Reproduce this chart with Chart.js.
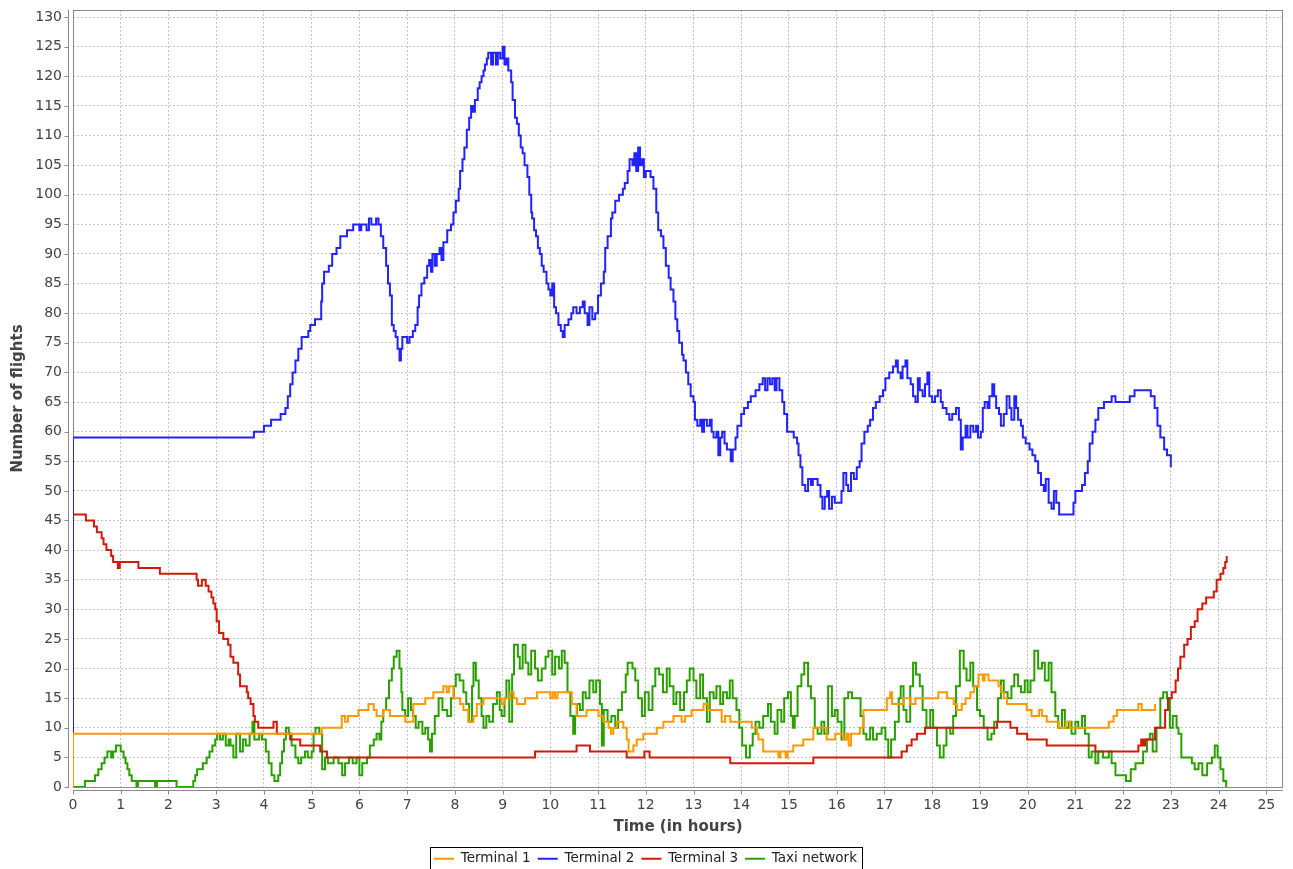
<!DOCTYPE html>
<html>
<head>
<meta charset="utf-8">
<title>Number of flights</title>
<script src="https://cdn.jsdelivr.net/npm/chart.js@4.4.1/dist/chart.umd.min.js"></script>
<style>
  html, body { margin: 0; padding: 0; background: #ffffff; }
  #wrap { position: relative; width: 1293px; height: 869px; }
</style>
</head>
<body>
<div id="wrap"><canvas id="flightsChart"></canvas></div>
<script>
// ==========================
// Data: [hour, number of flights] — each value holds until the next step
// ==========================

const seriesNames = ["Terminal 1", "Terminal 2", "Terminal 3", "Taxi network"];

const terminal1 = [
    [0, 0], [0, 9], [5.21, 10], [5.63, 12], [5.7, 11], [5.76, 12], [5.98, 13], [6.19, 14], [6.3, 13],
    [6.36, 12], [6.5, 13], [6.64, 12], [6.96, 11], [7.13, 14], [7.38, 15], [7.55, 16], [7.76, 17],
    [7.83, 16], [7.88, 17], [7.97, 15], [8.11, 14], [8.18, 13], [8.28, 11], [8.39, 12], [8.46, 14],
    [8.6, 15], [8.98, 14], [9.05, 15], [9.16, 16], [9.23, 15], [9.3, 14], [9.47, 15], [9.72, 16],
    [10.0, 15], [10.05, 16], [10.1, 15], [10.15, 16], [10.45, 14], [10.55, 12], [10.76, 13], [11.01, 12],
    [11.11, 11], [11.22, 10], [11.27, 9], [11.32, 10], [11.39, 11], [11.53, 10], [11.6, 8], [11.64, 6],
    [11.74, 7], [11.81, 8], [11.95, 9], [12.23, 10], [12.37, 11], [12.58, 12], [12.75, 11], [12.82, 12],
    [12.96, 13], [13.21, 14], [13.31, 13], [13.59, 11], [13.66, 12], [13.77, 11], [14.22, 10], [14.33, 9],
    [14.36, 8], [14.46, 6], [14.78, 5], [14.82, 6], [14.93, 5], [14.97, 6], [15.09, 7], [15.3, 8],
    [15.51, 10], [15.79, 8], [15.97, 9], [16.14, 8], [16.21, 9], [16.25, 7], [16.3, 9], [16.49, 10],
    [16.56, 13], [17.05, 15], [17.12, 16], [17.16, 14], [17.4, 15], [17.55, 14], [17.65, 15], [18.13, 16],
    [18.31, 15], [18.45, 14], [18.52, 13], [18.62, 14], [18.7, 15], [18.8, 16], [18.88, 17], [18.97, 19],
    [19.06, 18], [19.1, 19], [19.18, 18], [19.39, 17], [19.45, 16], [19.5, 15], [19.57, 14], [19.98, 13],
    [20.08, 12], [20.24, 13], [20.3, 12], [20.4, 11], [20.65, 10], [20.8, 11], [20.89, 10], [21.7, 11],
    [21.8, 12], [21.87, 13], [22.32, 14], [22.39, 13], [22.67, 14]
];

const terminal2 = [
    [0, 0], [0, 59], [3.79, 60], [4.0, 61], [4.15, 62], [4.35, 63], [4.45, 64], [4.5, 66], [4.55, 68],
    [4.6, 70], [4.66, 72], [4.72, 74], [4.79, 76], [4.93, 77], [4.97, 78], [5.07, 79], [5.2, 82],
    [5.22, 85], [5.26, 87], [5.36, 88], [5.43, 90], [5.52, 91], [5.6, 93], [5.74, 94], [5.87, 95],
    [6.0, 94], [6.04, 95], [6.15, 94], [6.2, 96], [6.25, 95], [6.35, 96], [6.4, 95], [6.45, 93],
    [6.5, 91], [6.56, 88], [6.6, 85], [6.64, 83], [6.68, 78], [6.72, 77], [6.76, 76], [6.8, 74],
    [6.84, 72], [6.87, 74], [6.9, 76], [7.0, 75], [7.05, 76], [7.12, 77], [7.17, 78], [7.22, 81],
    [7.25, 83], [7.3, 85], [7.36, 86], [7.42, 88], [7.46, 89], [7.5, 87], [7.53, 90], [7.58, 88],
    [7.62, 90], [7.68, 91], [7.72, 89], [7.76, 92], [7.84, 94], [7.92, 95], [7.97, 97], [8.02, 99],
    [8.08, 101], [8.11, 104], [8.16, 106], [8.2, 108], [8.25, 111], [8.3, 113], [8.34, 115], [8.38, 114],
    [8.42, 116], [8.48, 118], [8.52, 119], [8.56, 120], [8.6, 121], [8.63, 122], [8.67, 123], [8.7, 124],
    [8.76, 122], [8.8, 124], [8.86, 122], [8.9, 124], [8.95, 123], [9.0, 125], [9.04, 122], [9.08, 123],
    [9.12, 121], [9.18, 119], [9.21, 116], [9.26, 113], [9.3, 112], [9.34, 110], [9.38, 108], [9.42, 107],
    [9.46, 105], [9.52, 103], [9.56, 100], [9.6, 97], [9.62, 96], [9.66, 94], [9.7, 93], [9.74, 91],
    [9.78, 90], [9.82, 88], [9.86, 87], [9.92, 85], [9.96, 84], [10.0, 83], [10.04, 85], [10.08, 81],
    [10.12, 80], [10.17, 78], [10.22, 77], [10.26, 76], [10.3, 78], [10.38, 79], [10.44, 80], [10.48, 81],
    [10.55, 80], [10.62, 81], [10.68, 82], [10.72, 80], [10.78, 78], [10.82, 81], [10.88, 79], [10.94, 80],
    [11.0, 83], [11.06, 85], [11.12, 87], [11.15, 91], [11.2, 93], [11.27, 96], [11.3, 97], [11.36, 99],
    [11.44, 100], [11.52, 101], [11.56, 102], [11.62, 104], [11.66, 106], [11.72, 105], [11.76, 107],
    [11.8, 104], [11.84, 108], [11.88, 105], [11.92, 106], [11.96, 103], [12.0, 104], [12.1, 103],
    [12.16, 101], [12.22, 97], [12.26, 94], [12.32, 93], [12.37, 91], [12.42, 88], [12.48, 86], [12.52, 84],
    [12.58, 82], [12.62, 79], [12.66, 77], [12.7, 75], [12.76, 73], [12.79, 72], [12.84, 70], [12.89, 68],
    [12.94, 66], [13.0, 65], [13.03, 62], [13.08, 61], [13.14, 62], [13.18, 60], [13.22, 62], [13.28, 61],
    [13.34, 62], [13.38, 60], [13.42, 59], [13.48, 60], [13.52, 56], [13.56, 59], [13.6, 60], [13.65, 58],
    [13.7, 57], [13.78, 55], [13.82, 57], [13.88, 59], [13.92, 61], [14.0, 63], [14.06, 64], [14.14, 65],
    [14.2, 66], [14.3, 67], [14.38, 68], [14.45, 69], [14.5, 67], [14.55, 69], [14.6, 68], [14.65, 69],
    [14.7, 67], [14.74, 69], [14.8, 67], [14.86, 65], [14.9, 63], [14.96, 60], [15.1, 59], [15.17, 58],
    [15.2, 56], [15.24, 54], [15.28, 51], [15.34, 50], [15.4, 52], [15.46, 51], [15.5, 52], [15.6, 51],
    [15.66, 49], [15.7, 47], [15.75, 49], [15.8, 50], [15.84, 47], [15.9, 49], [15.96, 48], [16.1, 50],
    [16.14, 53], [16.2, 51], [16.24, 50], [16.3, 53], [16.36, 52], [16.42, 54], [16.48, 55], [16.52, 58],
    [16.58, 60], [16.65, 61], [16.7, 62], [16.76, 64], [16.82, 65], [16.9, 66], [16.97, 67], [17.02, 69],
    [17.1, 70], [17.18, 71], [17.24, 72], [17.28, 70], [17.34, 69], [17.38, 71], [17.44, 72], [17.48, 69],
    [17.55, 68], [17.6, 66], [17.65, 65], [17.7, 69], [17.74, 67], [17.8, 66], [17.85, 68], [17.9, 70],
    [17.94, 66], [18.0, 65], [18.06, 66], [18.12, 67], [18.18, 65], [18.22, 64], [18.3, 63], [18.36, 62],
    [18.42, 63], [18.5, 64], [18.56, 62], [18.6, 57], [18.64, 59], [18.7, 61], [18.74, 59], [18.8, 61],
    [18.86, 60], [18.92, 61], [18.96, 59], [19.02, 60], [19.06, 64], [19.1, 65], [19.16, 64], [19.2, 66],
    [19.26, 68], [19.3, 66], [19.34, 64], [19.4, 63], [19.44, 61], [19.5, 63], [19.56, 66], [19.62, 64],
    [19.66, 62], [19.72, 66], [19.76, 64], [19.8, 62], [19.86, 61], [19.9, 59], [19.96, 58], [20.04, 57],
    [20.1, 56], [20.16, 55], [20.22, 53], [20.28, 51], [20.34, 50], [20.38, 52], [20.44, 48], [20.5, 47],
    [20.55, 50], [20.6, 48], [20.66, 46], [20.96, 48], [21.0, 50], [21.14, 51], [21.2, 53], [21.26, 55],
    [21.3, 58], [21.36, 60], [21.42, 62], [21.48, 64], [21.6, 65], [21.76, 66], [21.84, 65], [22.14, 66],
    [22.24, 67], [22.58, 66], [22.66, 64], [22.72, 61], [22.78, 59], [22.86, 57], [22.92, 56], [23.0, 54]
];

const terminal3 = [
    [0, 0], [0, 46], [0.27, 45], [0.44, 44], [0.5, 43], [0.6, 42], [0.64, 41], [0.7, 40], [0.8, 39],
    [0.84, 38], [0.94, 37], [0.98, 38], [1.37, 37], [1.82, 36], [2.59, 35], [2.62, 34], [2.7, 35],
    [2.78, 34], [2.84, 33], [2.9, 32], [2.94, 31], [2.98, 30], [3.01, 28], [3.06, 26], [3.15, 25],
    [3.25, 24], [3.3, 22], [3.36, 21], [3.46, 19], [3.5, 17], [3.64, 16], [3.67, 15], [3.72, 14],
    [3.78, 12], [3.81, 11], [3.88, 10], [4.2, 11], [4.27, 9], [4.55, 8], [4.76, 7], [5.18, 6], [5.32, 5],
    [9.68, 6], [10.55, 7], [10.83, 6], [11.6, 5], [11.97, 6], [12.08, 5], [13.77, 4], [15.51, 5],
    [17.36, 6], [17.47, 7], [17.57, 8], [17.68, 9], [17.85, 10], [19.36, 11], [19.64, 10], [19.78, 9],
    [19.99, 8], [20.4, 7], [21.42, 6], [22.32, 7], [22.38, 8], [22.42, 7], [22.46, 8], [22.67, 10],
    [22.88, 13], [22.94, 15], [23.02, 16], [23.1, 18], [23.15, 20], [23.2, 22], [23.28, 24], [23.35, 25],
    [23.42, 27], [23.5, 28], [23.56, 30], [23.66, 31], [23.74, 32], [23.9, 33], [23.96, 35], [24.04, 36],
    [24.1, 37], [24.14, 38], [24.17, 39]
];

const taxiNetwork = [
    [0, 0], [0.25, 1], [0.46, 2], [0.53, 3], [0.6, 4], [0.66, 5], [0.72, 6], [0.8, 5], [0.84, 6],
    [0.9, 7], [1.0, 6], [1.06, 5], [1.1, 4], [1.14, 3], [1.18, 2], [1.23, 1], [1.33, 0], [1.36, 1],
    [1.72, 0], [1.76, 1], [2.17, 0], [2.52, 1], [2.56, 2], [2.6, 3], [2.72, 4], [2.8, 5], [2.86, 6],
    [2.92, 7], [2.98, 8], [3.02, 9], [3.08, 8], [3.14, 9], [3.2, 7], [3.26, 8], [3.3, 7], [3.36, 5],
    [3.42, 9], [3.5, 6], [3.56, 8], [3.62, 7], [3.7, 9], [3.76, 11], [3.8, 8], [3.9, 9], [3.96, 8],
    [4.04, 6], [4.1, 4], [4.16, 2], [4.22, 1], [4.3, 2], [4.34, 4], [4.38, 6], [4.42, 8], [4.46, 10],
    [4.52, 9], [4.58, 7], [4.66, 5], [4.72, 4], [4.78, 5], [4.86, 6], [4.92, 5], [5.0, 6], [5.04, 9],
    [5.08, 10], [5.16, 9], [5.22, 3], [5.28, 5], [5.34, 4], [5.46, 5], [5.56, 4], [5.64, 2], [5.7, 4],
    [5.78, 5], [5.86, 4], [5.94, 5], [6.0, 2], [6.06, 4], [6.16, 5], [6.22, 7], [6.3, 8], [6.36, 9],
    [6.42, 8], [6.46, 11], [6.5, 13], [6.56, 15], [6.62, 18], [6.68, 20], [6.72, 22], [6.78, 23],
    [6.84, 20], [6.88, 16], [6.9, 13], [6.96, 12], [7.02, 15], [7.08, 13], [7.12, 12], [7.18, 10],
    [7.24, 11], [7.32, 9], [7.38, 10], [7.44, 8], [7.48, 6], [7.52, 9], [7.58, 12], [7.66, 15],
    [7.74, 13], [7.84, 12], [7.92, 15], [7.98, 17], [8.02, 19], [8.1, 18], [8.18, 16], [8.24, 14],
    [8.3, 11], [8.36, 17], [8.39, 21], [8.44, 18], [8.5, 15], [8.56, 12], [8.6, 10], [8.66, 12],
    [8.72, 11], [8.8, 14], [8.88, 16], [8.94, 13], [8.98, 12], [9.04, 15], [9.08, 18], [9.14, 11],
    [9.2, 19], [9.24, 24], [9.32, 22], [9.36, 20], [9.42, 24], [9.48, 21], [9.54, 19], [9.6, 23],
    [9.68, 20], [9.74, 18], [9.82, 20], [9.9, 22], [9.96, 23], [10.04, 19], [10.1, 22], [10.18, 20],
    [10.24, 23], [10.3, 21], [10.36, 16], [10.42, 12], [10.48, 9], [10.52, 12], [10.56, 14], [10.62, 13],
    [10.68, 16], [10.74, 15], [10.82, 18], [10.9, 16], [10.96, 18], [11.04, 14], [11.08, 7], [11.12, 13],
    [11.2, 11], [11.28, 12], [11.36, 10], [11.42, 13], [11.5, 16], [11.58, 19], [11.62, 21], [11.72, 20],
    [11.78, 18], [11.84, 15], [11.92, 12], [11.98, 16], [12.06, 13], [12.14, 17], [12.2, 20], [12.28, 19],
    [12.36, 16], [12.44, 20], [12.5, 17], [12.58, 14], [12.64, 16], [12.72, 13], [12.8, 16], [12.86, 18],
    [12.92, 20], [13.0, 18], [13.06, 15], [13.14, 19], [13.2, 15], [13.28, 11], [13.34, 16], [13.42, 15],
    [13.48, 17], [13.56, 14], [13.62, 16], [13.7, 15], [13.76, 18], [13.82, 15], [13.9, 13], [13.96, 10],
    [14.02, 7], [14.1, 5], [14.18, 7], [14.24, 9], [14.3, 11], [14.38, 10], [14.46, 12], [14.56, 14],
    [14.62, 11], [14.7, 9], [14.76, 13], [14.84, 11], [14.9, 15], [14.98, 16], [15.04, 12], [15.08, 10],
    [15.12, 12], [15.18, 17], [15.26, 19], [15.32, 21], [15.4, 17], [15.46, 15], [15.54, 10], [15.6, 9],
    [15.68, 11], [15.74, 9], [15.82, 17], [15.9, 12], [15.96, 13], [16.02, 11], [16.1, 8], [16.16, 15],
    [16.24, 16], [16.32, 15], [16.42, 15], [16.5, 12], [16.56, 9], [16.62, 8], [16.7, 10], [16.76, 8],
    [16.84, 9], [16.94, 10], [17.02, 8], [17.08, 5], [17.14, 8], [17.22, 11], [17.3, 15], [17.34, 17],
    [17.4, 13], [17.46, 11], [17.54, 17], [17.6, 21], [17.66, 19], [17.74, 17], [17.8, 13], [17.88, 10],
    [17.96, 13], [18.02, 10], [18.1, 7], [18.16, 5], [18.24, 7], [18.3, 10], [18.38, 9], [18.44, 12],
    [18.5, 17], [18.58, 23], [18.66, 20], [18.72, 18], [18.8, 21], [18.86, 17], [18.94, 13], [19.0, 12],
    [19.08, 10], [19.16, 8], [19.24, 9], [19.3, 11], [19.38, 15], [19.44, 18], [19.5, 16], [19.58, 15],
    [19.66, 17], [19.72, 19], [19.8, 17], [19.86, 16], [19.94, 18], [20.0, 16], [20.06, 18], [20.14, 23],
    [20.22, 20], [20.3, 21], [20.36, 18], [20.44, 21], [20.5, 16], [20.58, 12], [20.64, 10], [20.72, 13],
    [20.78, 10], [20.86, 11], [20.92, 9], [21.0, 11], [21.06, 10], [21.14, 12], [21.2, 9], [21.28, 5],
    [21.34, 6], [21.42, 4], [21.48, 6], [21.58, 5], [21.7, 6], [21.76, 4], [21.84, 2], [22.06, 1],
    [22.16, 3], [22.26, 4], [22.42, 6], [22.5, 8], [22.56, 9], [22.62, 6], [22.7, 10], [22.78, 15],
    [22.84, 16], [22.92, 15], [22.98, 10], [23.04, 12], [23.12, 10], [23.16, 9], [23.22, 5], [23.44, 4],
    [23.5, 3], [23.58, 4], [23.66, 2], [23.76, 4], [23.86, 5], [23.92, 7], [23.98, 5], [24.04, 3],
    [24.1, 1], [24.16, 0]
];

const seriesColors = ["#ff9900", "#2323ff", "#d11a0a", "#2aa000"];

// axis ranges / tick spacing
const hourRange = [0, 25.35];
const hourStep = 1;
const flightRange = [0, 131.2];
const flightStep = 5;

// ==========================
// Helpers
// ==========================

const toPoints = rows => rows.map(r => ({ x: r[0], y: r[1] }));

const FONT = "'DejaVu Sans', Verdana, sans-serif";

// gray axis lines offset from the plot, a frame round the plot, and a box round the legend
const plotDecor = {
    id: "plotDecor",
    beforeDatasetsDraw(chart) {
        const { ctx, chartArea: a } = chart;
        ctx.save();
        ctx.strokeStyle = "#8a8a8a";
        ctx.lineWidth = 1;
        ctx.strokeRect(a.left + 0.5, a.top + 0.5, a.right - a.left - 1, a.bottom - a.top);
        ctx.restore();
    },
    afterDraw(chart) {
        const { ctx, chartArea: a, scales } = chart;
        ctx.save();
        ctx.strokeStyle = "#8a8a8a";
        ctx.lineWidth = 1;

        // y axis
        const ax = a.left - 4.5;
        ctx.beginPath();
        ctx.moveTo(ax, a.top);
        ctx.lineTo(ax, a.bottom + 1);
        scales.y.ticks.forEach(t => {
            const py = Math.round(scales.y.getPixelForValue(t.value)) + 0.5;
            ctx.moveTo(ax - 4, py);
            ctx.lineTo(ax, py);
        });
        // x axis
        const ay = a.bottom + 3.5;
        ctx.moveTo(a.left, ay);
        ctx.lineTo(a.right, ay);
        scales.x.ticks.forEach(t => {
            const px = Math.round(scales.x.getPixelForValue(t.value)) + 0.5;
            ctx.moveTo(px, ay);
            ctx.lineTo(px, ay + 4);
        });
        ctx.stroke();

        // legend frame
        const boxes = chart.legend.legendHitBoxes;
        if (boxes && boxes.length) {
            const left = Math.min(...boxes.map(b => b.left)) - 4;
            const right = Math.max(...boxes.map(b => b.left + b.width)) + 5;
            const top = boxes[0].top - 5;
            ctx.strokeStyle = "#000000";
            ctx.strokeRect(Math.round(left) + 0.5, Math.round(top) + 0.5, Math.round(right - left), chart.height);
        }
        ctx.restore();
    }
};

// fixed legend height so the plot keeps its place
const legendHeight = {
    id: "legendHeight",
    beforeInit(chart) {
        const fit = chart.legend.fit;
        chart.legend.fit = function () {
            fit.bind(chart.legend)();
            this.height = 24;
        };
    }
};

// ==========================
// Chart
// ==========================

document.addEventListener("DOMContentLoaded", () => {

    const ctx = document.getElementById("flightsChart");

    const rows = [terminal1, terminal2, terminal3, taxiNetwork];

    new Chart(ctx, {

        type: "line",

        data: {
            datasets: seriesNames.map((name, i) => ({
                label: name,
                data: toPoints(rows[i]),
                borderColor: seriesColors[i],
                backgroundColor: seriesColors[i],
                borderWidth: 2,
                stepped: true,
                pointRadius: 0,
                pointHoverRadius: 0,
                fill: false
            }))
        },

        options: {
            responsive: true,
            maintainAspectRatio: false,
            animation: false,
            events: [],
            layout: {
                padding: { left: 8, right: 10, top: 10, bottom: 0 }
            },
            plugins: {
                legend: {
                    position: "bottom",
                    labels: {
                        boxWidth: 20,
                        boxHeight: 2,
                        padding: 7,
                        color: "#222222",
                        font: { family: FONT, size: 13.5 },
                        generateLabels(chart) {
                            const items = Chart.defaults.plugins.legend.labels.generateLabels(chart);
                            items.forEach(it => { it.lineWidth = 0; });
                            return items;
                        }
                    }
                },
                tooltip: { enabled: false }
            },
            scales: {
                x: {
                    type: "linear",
                    min: hourRange[0],
                    max: hourRange[1],
                    afterFit(scale) {
                        scale.height = 58;
                        scale.paddingLeft = 0;
                        scale.paddingRight = 0;
                    },
                    ticks: {
                        stepSize: hourStep,
                        includeBounds: false,
                        padding: 10,
                        color: "#444444",
                        font: { family: FONT, size: 14 },
                        maxRotation: 0
                    },
                    grid: {
                        color: "#c4c4c4",
                        lineWidth: 1,
                        drawTicks: false
                    },
                    border: { display: false, dash: [2, 2] },
                    title: {
                        display: true,
                        text: "Time (in hours)",
                        color: "#444444",
                        font: { family: FONT, size: 15, weight: "bold" },
                        padding: { top: 0, bottom: 9 }
                    }
                },
                y: {
                    min: flightRange[0],
                    max: flightRange[1],
                    afterFit(scale) {
                        scale.width = 65;
                        scale.paddingTop = 0;
                        scale.paddingBottom = 0;
                    },
                    ticks: {
                        stepSize: flightStep,
                        includeBounds: false,
                        padding: 11,
                        color: "#444444",
                        font: { family: FONT, size: 14 }
                    },
                    grid: {
                        color: "#c4c4c4",
                        lineWidth: 1,
                        drawTicks: false
                    },
                    border: { display: false, dash: [2, 2] },
                    title: {
                        display: true,
                        text: "Number of flights",
                        color: "#444444",
                        font: { family: FONT, size: 15, weight: "bold" },
                        padding: { top: 1, bottom: 0 }
                    }
                }
            }
        },

        plugins: [plotDecor, legendHeight]

    });

});
</script>
</body>
</html>
